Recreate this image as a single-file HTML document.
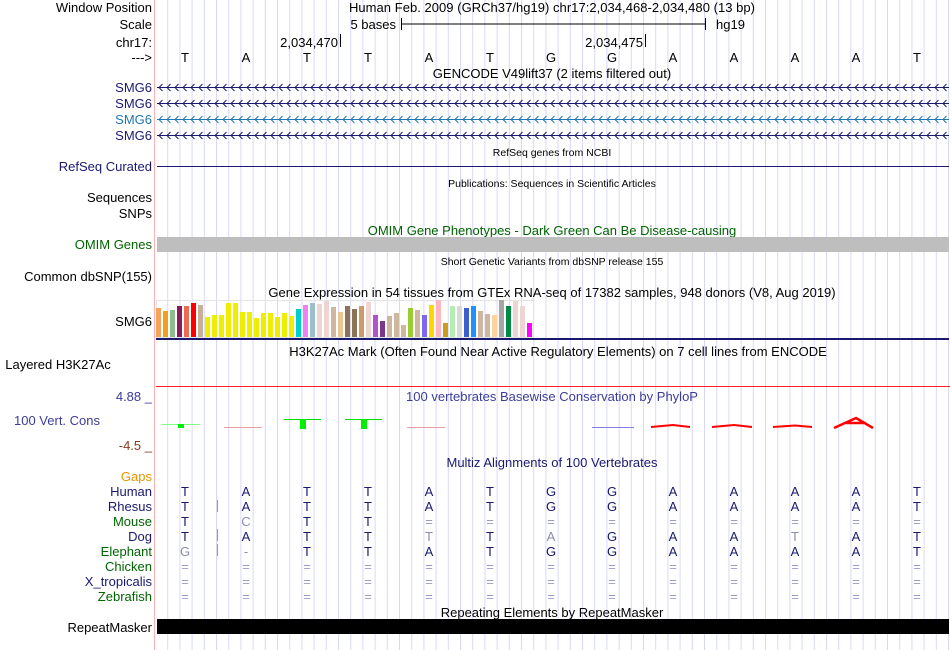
<!DOCTYPE html>
<html><head><meta charset="utf-8"><style>
body{margin:0;background:#fff}
svg{display:block}
text{font-family:"Liberation Sans",Arial,sans-serif;font-size:13px}
.r{text-anchor:end}
.c{text-anchor:middle}
.n{fill:#191970}
.g{fill:#006400}
.s{font-size:10.5px}
.m text{text-anchor:middle;fill:#191970}
.m .x{fill:#8c8cb4}
.m .e{fill:#9a9ac8}
</style></head><body>
<svg width="950" height="650" xmlns="http://www.w3.org/2000/svg">
<defs>
<pattern id="grid" x="155" y="0" width="12.2" height="650" patternUnits="userSpaceOnUse">
<rect x="0" y="0" width="1" height="650" fill="#d8d8f6"/>
</pattern>
<pattern id="chev1" x="157" y="82" width="8" height="16" patternUnits="userSpaceOnUse">
<path d="M5.5,2 L2,5.5 L5.5,9" fill="none" stroke="#191970" stroke-width="1"/>
</pattern>
<pattern id="chev2" x="157" y="82" width="8" height="16" patternUnits="userSpaceOnUse">
<path d="M5.5,2 L2,5.5 L5.5,9" fill="none" stroke="#1f78b4" stroke-width="1"/>
</pattern>
</defs>
<rect x="156" y="0" width="794" height="650" fill="url(#grid)"/>
<rect x="154" y="0" width="1" height="650" fill="#ffb0b0"/>

<text x="152" y="12" class="r">Window Position</text>
<text x="152" y="29" class="r">Scale</text>
<text x="152" y="47" class="r">chr17:</text>
<text x="152" y="62" class="r">---&gt;</text>
<text x="349" y="12" textLength="406">Human Feb. 2009 (GRCh37/hg19)   chr17:2,034,468-2,034,480 (13 bp)</text>
<text x="396" y="29" class="r">5 bases</text>
<line x1="401" y1="24" x2="706" y2="24" stroke="#000"/>
<line x1="401.5" y1="18" x2="401.5" y2="30" stroke="#000"/>
<line x1="705.5" y1="18" x2="705.5" y2="30" stroke="#000"/>
<text x="716" y="29">hg19</text>
<text x="338" y="47" class="r">2,034,470</text>
<line x1="340.5" y1="34" x2="340.5" y2="47" stroke="#000"/>
<text x="643" y="47" class="r">2,034,475</text>
<line x1="645.5" y1="34" x2="645.5" y2="47" stroke="#000"/>
<text x="185" y="62" class="c">T</text><text x="246" y="62" class="c">A</text><text x="307" y="62" class="c">T</text><text x="368" y="62" class="c">T</text><text x="429" y="62" class="c">A</text><text x="490" y="62" class="c">T</text><text x="551" y="62" class="c">G</text><text x="612" y="62" class="c">G</text><text x="673" y="62" class="c">A</text><text x="734" y="62" class="c">A</text><text x="795" y="62" class="c">A</text><text x="856" y="62" class="c">A</text><text x="917" y="62" class="c">T</text>
<text x="552" y="78" class="c">GENCODE V49lift37 (2 items filtered out)</text>

<text x="152" y="92" class="r n">SMG6</text>
<text x="152" y="108" class="r n">SMG6</text>
<text x="152" y="124" class="r" fill="#1f78b4">SMG6</text>
<text x="152" y="140" class="r n">SMG6</text>
<rect x="157" y="87" width="792" height="1" fill="#191970"/>
<rect x="157" y="103" width="792" height="1" fill="#191970"/>
<rect x="157" y="119" width="792" height="1" fill="#1f78b4"/>
<rect x="157" y="135" width="792" height="1" fill="#191970"/>
<rect x="157" y="82" width="792" height="11" fill="url(#chev1)"/>
<rect x="157" y="98" width="792" height="11" fill="url(#chev1)"/>
<rect x="157" y="114" width="792" height="11" fill="url(#chev2)"/>
<rect x="157" y="130" width="792" height="11" fill="url(#chev1)"/>

<text x="552" y="156" class="c s">RefSeq genes from NCBI</text>
<text x="152" y="171" class="r n">RefSeq Curated</text>
<rect x="157" y="166" width="792" height="1" fill="#191970"/>
<text x="552" y="187" class="c s">Publications: Sequences in Scientific Articles</text>
<text x="152" y="202" class="r">Sequences</text>
<text x="152" y="218" class="r">SNPs</text>
<text x="552" y="235" class="c" fill="#006400">OMIM Gene Phenotypes - Dark Green Can Be Disease-causing</text>
<text x="152" y="249" class="r g">OMIM Genes</text>
<rect x="157" y="237" width="792" height="15" fill="#bebebe"/>
<text x="552" y="265" class="c s">Short Genetic Variants from dbSNP release 155</text>
<text x="152" y="281" class="r">Common dbSNP(155)</text>
<text x="552" y="297" class="c">Gene Expression in 54 tissues from GTEx RNA-seq of 17382 samples, 948 donors (V8, Aug 2019)</text>
<text x="152" y="326" class="r">SMG6</text>
<rect x="156.5" y="300.5" width="377" height="37" fill="none" stroke="#e4e4e4"/>
<g>
<rect x="156" y="308" width="5" height="29" fill="#f5a55a"/>
<rect x="163" y="311" width="5" height="26" fill="#f0a01a"/>
<rect x="170" y="310" width="5" height="27" fill="#8fbc8f"/>
<rect x="177" y="306" width="5" height="31" fill="#8b1a5a"/>
<rect x="184" y="306" width="5" height="31" fill="#ee6a50"/>
<rect x="191" y="303" width="5" height="34" fill="#ff0000"/>
<rect x="198" y="305" width="5" height="32" fill="#c8b098"/>
<rect x="205" y="317" width="5" height="20" fill="#eeee00"/>
<rect x="212" y="315" width="5" height="22" fill="#eeee00"/>
<rect x="219" y="315" width="5" height="22" fill="#eeee00"/>
<rect x="226" y="303" width="5" height="34" fill="#eeee00"/>
<rect x="233" y="303" width="5" height="34" fill="#eeee00"/>
<rect x="240" y="312" width="5" height="25" fill="#eeee00"/>
<rect x="247" y="312" width="5" height="25" fill="#eeee00"/>
<rect x="254" y="318" width="5" height="19" fill="#eeee00"/>
<rect x="261" y="313" width="5" height="24" fill="#eeee00"/>
<rect x="268" y="313" width="5" height="24" fill="#eeee00"/>
<rect x="275" y="317" width="5" height="20" fill="#eeee00"/>
<rect x="282" y="313" width="5" height="24" fill="#eeee00"/>
<rect x="289" y="316" width="5" height="21" fill="#eeee00"/>
<rect x="296" y="309" width="5" height="28" fill="#00cdcd"/>
<rect x="303" y="305" width="5" height="32" fill="#ee82ee"/>
<rect x="310" y="303" width="5" height="34" fill="#9ac0cd"/>
<rect x="317" y="304" width="5" height="33" fill="#eed5d2"/>
<rect x="324" y="301" width="5" height="36" fill="#eed5d2"/>
<rect x="331" y="307" width="5" height="30" fill="#cdb79e"/>
<rect x="338" y="312" width="5" height="25" fill="#eec591"/>
<rect x="345" y="306" width="5" height="31" fill="#8b7355"/>
<rect x="352" y="309" width="5" height="28" fill="#8b7355"/>
<rect x="359" y="306" width="5" height="31" fill="#cd9b69"/>
<rect x="366" y="302" width="5" height="35" fill="#eed5d2"/>
<rect x="373" y="315" width="5" height="22" fill="#b452cd"/>
<rect x="380" y="321" width="5" height="16" fill="#7a378b"/>
<rect x="387" y="316" width="5" height="21" fill="#cdb79e"/>
<rect x="394" y="313" width="5" height="24" fill="#cdb79e"/>
<rect x="401" y="325" width="5" height="12" fill="#cdb79e"/>
<rect x="408" y="308" width="5" height="29" fill="#9acd32"/>
<rect x="415" y="310" width="5" height="27" fill="#cdb79e"/>
<rect x="422" y="315" width="5" height="22" fill="#7b68ee"/>
<rect x="429" y="305" width="5" height="32" fill="#ffd700"/>
<rect x="436" y="300" width="5" height="37" fill="#ffb6c1"/>
<rect x="443" y="323" width="5" height="14" fill="#cd9b1d"/>
<rect x="450" y="306" width="5" height="31" fill="#b4eeb4"/>
<rect x="457" y="306" width="5" height="31" fill="#d9d9d9"/>
<rect x="464" y="308" width="5" height="29" fill="#3a5fcd"/>
<rect x="471" y="306" width="5" height="31" fill="#1e90ff"/>
<rect x="478" y="311" width="5" height="26" fill="#cdb79e"/>
<rect x="485" y="314" width="5" height="23" fill="#cdb79e"/>
<rect x="492" y="315" width="5" height="22" fill="#ffd39b"/>
<rect x="499" y="300" width="5" height="37" fill="#a6a6a6"/>
<rect x="506" y="306" width="5" height="31" fill="#008b45"/>
<rect x="513" y="301" width="5" height="36" fill="#eed5d2"/>
<rect x="520" y="306" width="5" height="31" fill="#eed5d2"/>
<rect x="527" y="323" width="5" height="14" fill="#ff00ff"/>
</g>
<rect x="156" y="338" width="793" height="2" fill="#191970"/>

<text x="558" y="356" class="c">H3K27Ac Mark (Often Found Near Active Regulatory Elements) on 7 cell lines from ENCODE</text>
<text x="58" y="369" class="c">Layered H3K27Ac</text>
<rect x="156" y="386" width="794" height="1" fill="#ff2020"/>

<text x="152" y="401" class="r" fill="#3c3c9c">4.88 _</text>
<text x="552" y="401" class="c" fill="#3c3c9c">100 vertebrates Basewise Conservation by PhyloP</text>
<text x="100" y="425" class="r" fill="#3c3c9c">100 Vert. Cons</text>
<text x="152" y="450" class="r" fill="#8b3a1a">-4.5 _</text>
<rect x="162" y="424" width="38" height="1" fill="#80ff80"/><rect x="178" y="424" width="6" height="4" fill="#00ee00"/>
<rect x="224" y="427" width="38" height="1" fill="#e8a0a0"/>
<rect x="284" y="419" width="37" height="1" fill="#00dd00"/><rect x="300" y="419" width="6" height="10" fill="#00ee00"/>
<rect x="345" y="419" width="37" height="1" fill="#00dd00"/><rect x="361" y="419" width="6" height="10" fill="#00ee00"/>
<rect x="407" y="427" width="38" height="1" fill="#e8a0a0"/>
<rect x="592" y="427" width="42" height="1" fill="#8080e0"/>
<path d="M651,427 L673,425 L690,427" fill="none" stroke="#ff0000" stroke-width="2"/>
<path d="M712,427 L734,425 L752,427" fill="none" stroke="#ff0000" stroke-width="2"/>
<path d="M773,427 L795,425.5 L812,427" fill="none" stroke="#ff0000" stroke-width="2"/>
<path d="M834,428 L856,418 L873,428 M846,423 L866,423" fill="none" stroke="#ff0000" stroke-width="2.5"/>

<text x="552" y="467" class="c" fill="#191970">Multiz Alignments of 100 Vertebrates</text>
<text x="152" y="481" class="r" fill="#e69500">Gaps</text>
<text x="152" y="496" class="r n">Human</text>
<text x="152" y="511" class="r n">Rhesus</text>
<text x="152" y="526" class="r g">Mouse</text>
<text x="152" y="541" class="r n">Dog</text>
<text x="152" y="556" class="r g">Elephant</text>
<text x="152" y="571" class="r g">Chicken</text>
<text x="152" y="586" class="r n">X_tropicalis</text>
<text x="152" y="601" class="r g">Zebrafish</text>
<rect x="217" y="500" width="1" height="12" fill="#e69500"/>
<rect x="217" y="529" width="1" height="12" fill="#e69500"/>
<rect x="217" y="544" width="1" height="12" fill="#e69500"/>
<g class="m">
<text x="185" y="496">T</text><text x="246" y="496">A</text><text x="307" y="496">T</text><text x="368" y="496">T</text><text x="429" y="496">A</text><text x="490" y="496">T</text><text x="551" y="496">G</text><text x="612" y="496">G</text><text x="673" y="496">A</text><text x="734" y="496">A</text><text x="795" y="496">A</text><text x="856" y="496">A</text><text x="917" y="496">T</text>
<text x="185" y="511">T</text><text x="246" y="511">A</text><text x="307" y="511">T</text><text x="368" y="511">T</text><text x="429" y="511">A</text><text x="490" y="511">T</text><text x="551" y="511">G</text><text x="612" y="511">G</text><text x="673" y="511">A</text><text x="734" y="511">A</text><text x="795" y="511">A</text><text x="856" y="511">A</text><text x="917" y="511">T</text>
<text x="185" y="526">T</text><text x="246" y="526" class="x">C</text><text x="307" y="526">T</text><text x="368" y="526">T</text><text x="429" y="526" class="e">=</text><text x="490" y="526" class="e">=</text><text x="551" y="526" class="e">=</text><text x="612" y="526" class="e">=</text><text x="673" y="526" class="e">=</text><text x="734" y="526" class="e">=</text><text x="795" y="526" class="e">=</text><text x="856" y="526" class="e">=</text><text x="917" y="526" class="e">=</text>
<text x="185" y="541">T</text><text x="246" y="541">A</text><text x="307" y="541">T</text><text x="368" y="541">T</text><text x="429" y="541" class="x">T</text><text x="490" y="541">T</text><text x="551" y="541" class="x">A</text><text x="612" y="541">G</text><text x="673" y="541">A</text><text x="734" y="541">A</text><text x="795" y="541" class="x">T</text><text x="856" y="541">A</text><text x="917" y="541">T</text>
<text x="185" y="556" class="x">G</text><text x="246" y="556" class="x">-</text><text x="307" y="556">T</text><text x="368" y="556">T</text><text x="429" y="556">A</text><text x="490" y="556">T</text><text x="551" y="556">G</text><text x="612" y="556">G</text><text x="673" y="556">A</text><text x="734" y="556">A</text><text x="795" y="556">A</text><text x="856" y="556">A</text><text x="917" y="556">T</text>
<text x="185" y="571" class="e">=</text><text x="246" y="571" class="e">=</text><text x="307" y="571" class="e">=</text><text x="368" y="571" class="e">=</text><text x="429" y="571" class="e">=</text><text x="490" y="571" class="e">=</text><text x="551" y="571" class="e">=</text><text x="612" y="571" class="e">=</text><text x="673" y="571" class="e">=</text><text x="734" y="571" class="e">=</text><text x="795" y="571" class="e">=</text><text x="856" y="571" class="e">=</text><text x="917" y="571" class="e">=</text>
<text x="185" y="586" class="e">=</text><text x="246" y="586" class="e">=</text><text x="307" y="586" class="e">=</text><text x="368" y="586" class="e">=</text><text x="429" y="586" class="e">=</text><text x="490" y="586" class="e">=</text><text x="551" y="586" class="e">=</text><text x="612" y="586" class="e">=</text><text x="673" y="586" class="e">=</text><text x="734" y="586" class="e">=</text><text x="795" y="586" class="e">=</text><text x="856" y="586" class="e">=</text><text x="917" y="586" class="e">=</text>
<text x="185" y="601" class="e">=</text><text x="246" y="601" class="e">=</text><text x="307" y="601" class="e">=</text><text x="368" y="601" class="e">=</text><text x="429" y="601" class="e">=</text><text x="490" y="601" class="e">=</text><text x="551" y="601" class="e">=</text><text x="612" y="601" class="e">=</text><text x="673" y="601" class="e">=</text><text x="734" y="601" class="e">=</text><text x="795" y="601" class="e">=</text><text x="856" y="601" class="e">=</text><text x="917" y="601" class="e">=</text>
</g>

<text x="552" y="617" class="c">Repeating Elements by RepeatMasker</text>
<text x="152" y="632" class="r">RepeatMasker</text>
<rect x="157" y="619" width="792" height="15" fill="#000"/>
</svg>
</body></html>
